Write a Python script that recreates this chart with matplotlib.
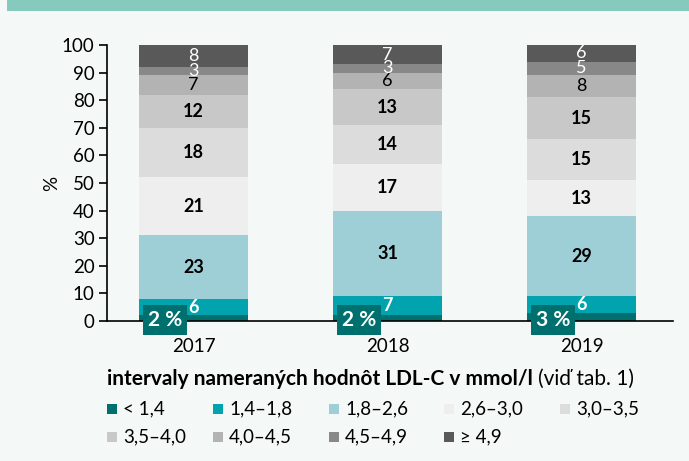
import numpy as np
import matplotlib.pyplot as plt
from matplotlib.patches import Rectangle

# --- data ---
years = ['2017', '2018', '2019']
intervals = ['< 1,4', '1,4–1,8', '1,8–2,6', '2,6–3,0', '3,0–3,5',
             '3,5–4,0', '4,0–4,5', '4,5–4,9', '≥ 4,9']
share_2017 = [2, 6, 23, 21, 18, 12, 7, 3, 8]
share_2018 = [2, 7, 31, 17, 14, 13, 6, 3, 7]
share_2019 = [3, 6, 29, 13, 15, 15, 8, 5, 6]
yticks = [0, 10, 20, 30, 40, 50, 60, 70, 80, 90, 100]

colors = ['#00706f', '#00a3ae', '#9ecfd6', '#eeeeee', '#dcdcdc',
          '#c8c8c8', '#b3b3b3', '#888888', '#595959']
label_colors = ['white', 'white', 'black', 'black', 'black',
                'black', 'black', 'white', 'white']

bg = '#f4f8f7'
plt.rcParams['font.family'] = ['Lato', 'DejaVu Sans']

W, H = 689, 461
fig = plt.figure(figsize=(W / 100, H / 100), dpi=100, facecolor=bg)
# teal band at the top
fig.patches.append(Rectangle((7 / W, 1 - 11 / H), 1, 11 / H, transform=fig.transFigure,
                             facecolor='#86c9bd', edgecolor='none'))

ax = fig.add_axes([107 / W, 1 - 321 / H, (673 - 107) / W, (321 - 45) / H])
ax.set_facecolor(bg)

data = np.array([share_2017, share_2018, share_2019])
x = np.arange(len(years))
width = 0.56
bottom = np.zeros(len(years))
for i, name in enumerate(intervals):
    vals = data[:, i]
    ax.bar(x, vals, width, bottom=bottom, color=colors[i], label=name, zorder=2)
    for j in range(len(years)):
        v = vals[j]
        if i == 0:
            ax.text(x[j] - width / 2 + 0.045, 0.4, f'{v} %', ha='left', va='center',
                    color='white', fontsize=15, fontweight='bold', zorder=4,
                    bbox=dict(boxstyle='square,pad=0.25', facecolor=colors[0],
                              edgecolor='none'))
        else:
            wt = 'normal' if i >= 6 else 'bold'
            ax.text(x[j], bottom[j] + v / 2, str(v), ha='center', va='center',
                    color=label_colors[i], fontsize=13, fontweight=wt, zorder=3)
    bottom += vals

ax.set_xlim(-0.446, 2.472)
ax.set_ylim(0, 100)
ax.set_yticks(yticks)
ax.set_xticks(x)
ax.set_xticklabels(years)
ax.tick_params(axis='x', length=0, pad=12, labelsize=13.5)
ax.tick_params(axis='y', length=6, width=1.2, labelsize=13.5, pad=3)
for s in ['top', 'right']:
    ax.spines[s].set_visible(False)
ax.spines['left'].set_linewidth(1.2)
ax.spines['bottom'].set_linewidth(1.2)
ax.spines['bottom'].set_zorder(3)
ax.set_ylabel('%', fontsize=13.5, labelpad=1)

# axis title below
t1 = fig.text(107 / W, 1 - 379 / H, 'intervaly nameraných hodnôt LDL-C v mmol/l ',
              fontsize=15, fontweight='bold', va='center', ha='left')
fig.canvas.draw()
bb = t1.get_window_extent()
fig.text(bb.x1 / W, 1 - 379 / H, '(viď tab. 1)', fontsize=15, va='center', ha='left')

# legend
col_x = [107, 213, 329, 444, 560]
row_y = [409, 436.5]
for k, name in enumerate(intervals):
    cx = col_x[k % 5]
    cy = row_y[k // 5]
    fig.patches.append(Rectangle((cx / W, 1 - (cy + 5) / H), 10 / W, 10 / H,
                                 transform=fig.transFigure, facecolor=colors[k],
                                 edgecolor='none'))
    fig.text((cx + 16) / W, 1 - cy / H, name, fontsize=13.5, va='center', ha='left')

fig.savefig('out.png', dpi=100, facecolor=bg)
